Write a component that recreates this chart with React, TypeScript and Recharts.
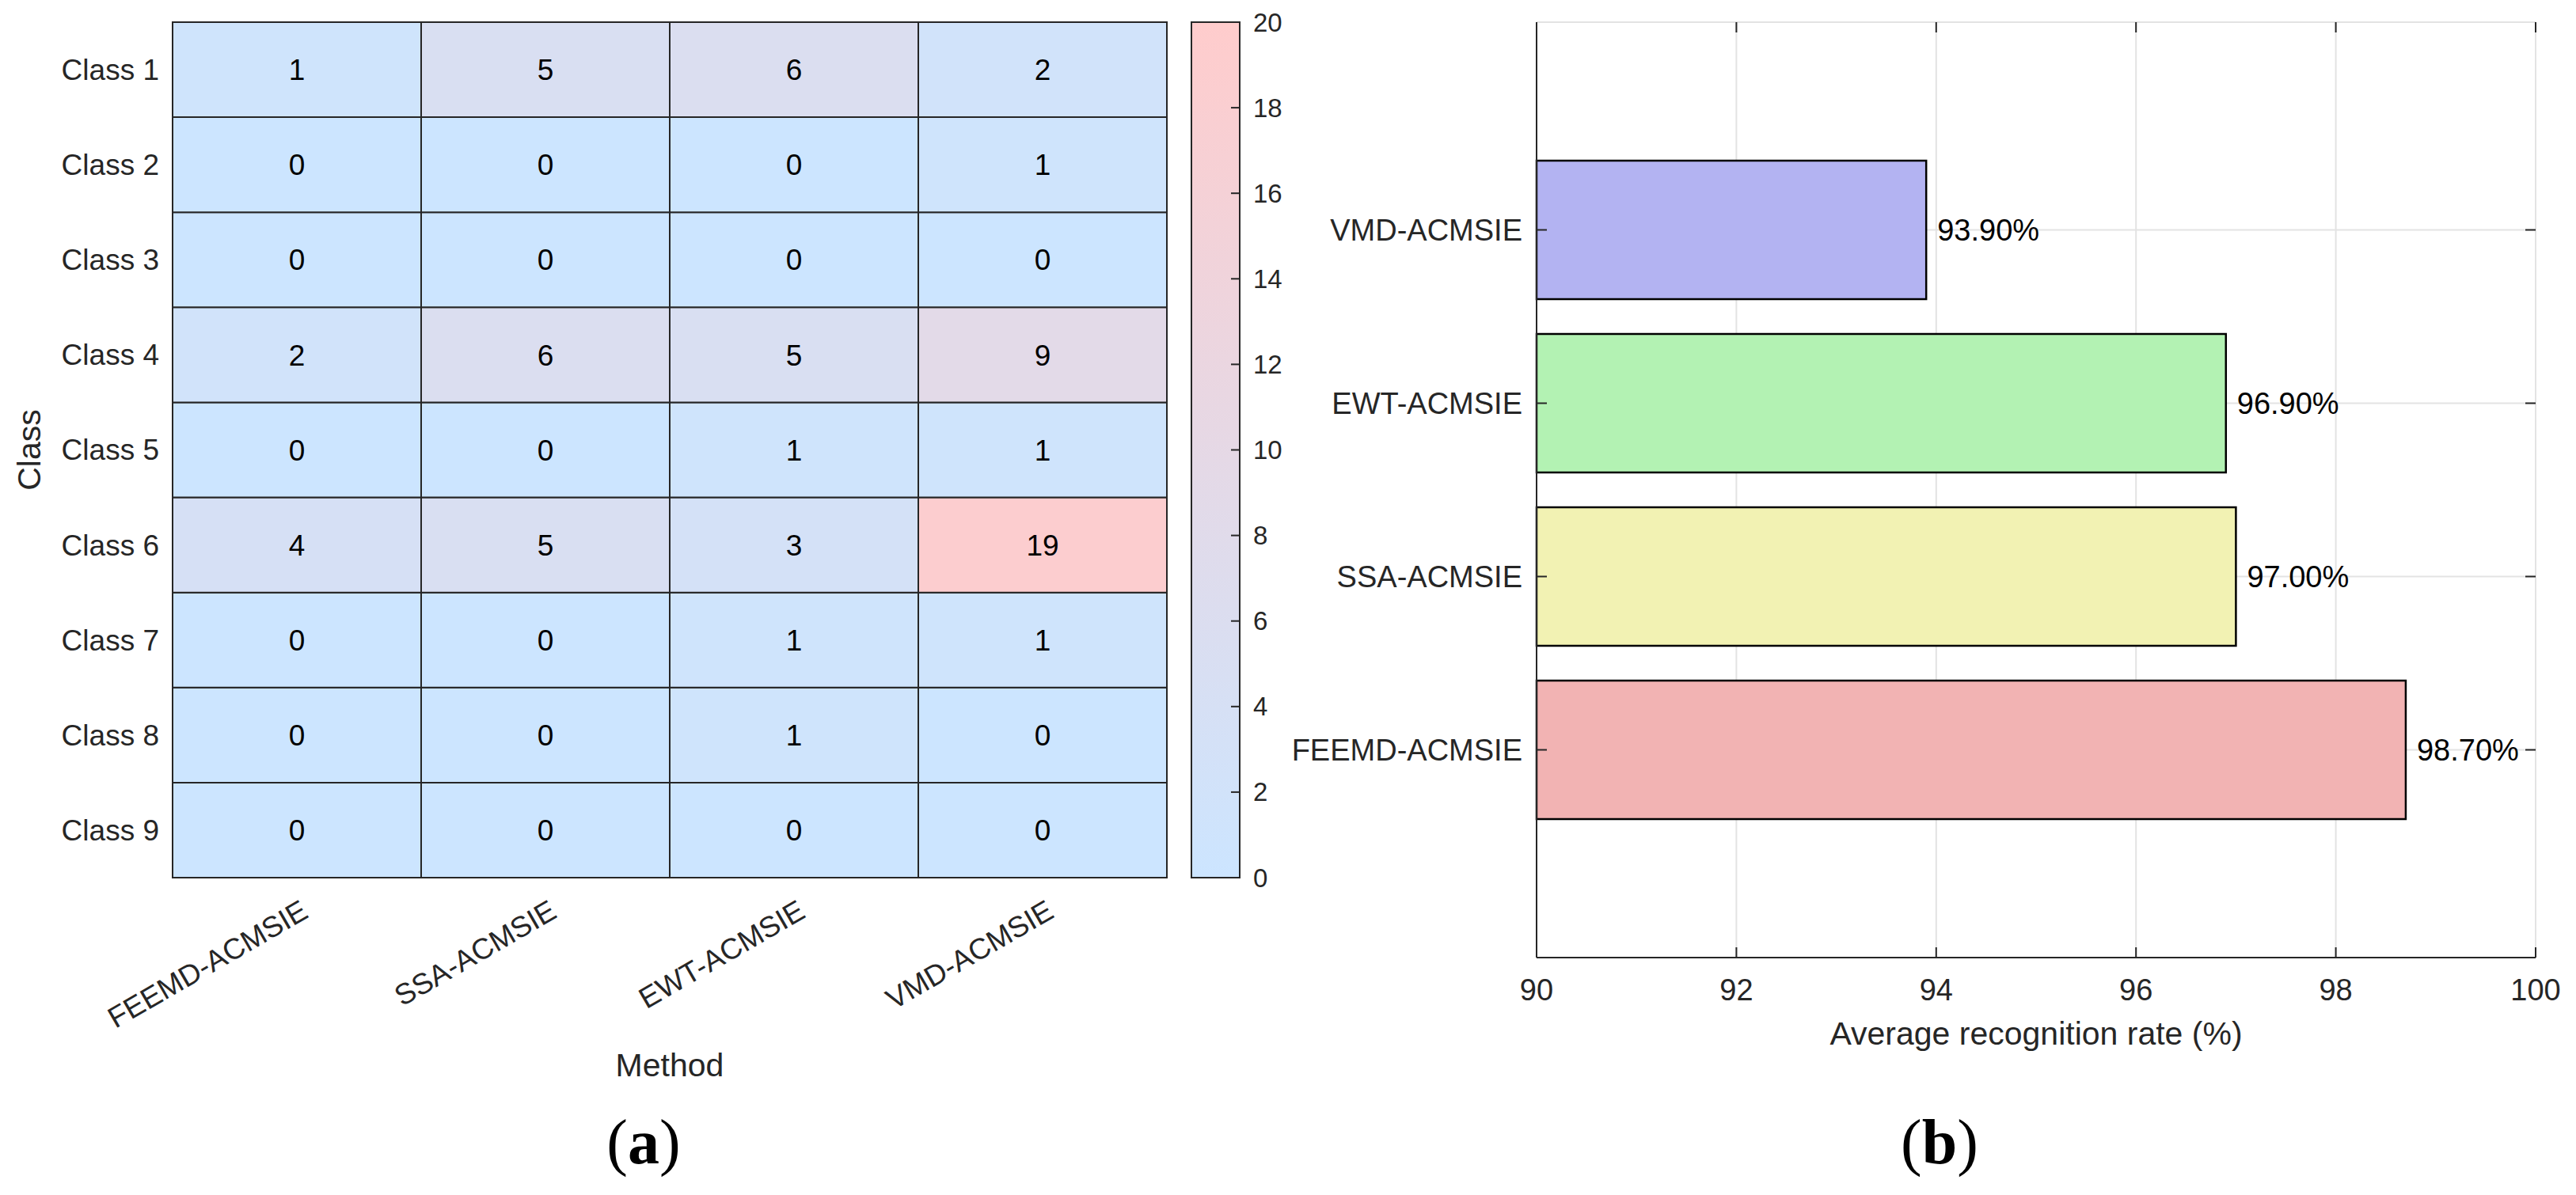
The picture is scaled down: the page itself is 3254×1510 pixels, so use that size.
import React from 'react';
import { BarChart, Bar, XAxis, YAxis, Cell, LabelList, CartesianGrid } from 'recharts';

// ---- (a) misclassified samples per class and method ----
const methods = ['FEEMD-ACMSIE', 'SSA-ACMSIE', 'EWT-ACMSIE', 'VMD-ACMSIE'];
const classNames = ['Class 1', 'Class 2', 'Class 3', 'Class 4', 'Class 5', 'Class 6', 'Class 7', 'Class 8', 'Class 9'];
const class1 = [1, 5, 6, 2];
const class2 = [0, 0, 0, 1];
const class3 = [0, 0, 0, 0];
const class4 = [2, 6, 5, 9];
const class5 = [0, 0, 1, 1];
const class6 = [4, 5, 3, 19];
const class7 = [0, 0, 1, 1];
const class8 = [0, 0, 1, 0];
const class9 = [0, 0, 0, 0];
const errorCounts = [class1, class2, class3, class4, class5, class6, class7, class8, class9];

const colorMax = 20;
const colorTicks = [0, 2, 4, 6, 8, 10, 12, 14, 16, 18, 20];

// ---- (b) average recognition rate, listed top to bottom ----
const rateMethods = ['VMD-ACMSIE', 'EWT-ACMSIE', 'SSA-ACMSIE', 'FEEMD-ACMSIE'];
const rates = [93.9, 96.9, 97.0, 98.7];
const rateColors = ['#b3b3f2', '#b3f2b3', '#f2f2b3', '#f2b3b3'];
const rateTicks = [90, 92, 94, 96, 98, 100];

const FONT = '"Liberation Sans", Arial, Helvetica, sans-serif';
const SERIF = '"Liberation Serif", "Times New Roman", serif';
const INK = '#262626';

const LOW = [204, 229, 255];
const HIGH = [255, 204, 204];
const cellColor = (v: number) => {
  const t = Math.max(0, Math.min(1, v / colorMax));
  const c = LOW.map((l, k) => Math.round(l + (HIGH[k] - l) * t));
  return `rgb(${c.join(',')})`;
};

const heatData = methods.map((m, j) => {
  const row: Record<string, any> = { method: m };
  classNames.forEach((c, i) => {
    row[c] = errorCounts[i][j];
  });
  return row;
});
const rowTicks = classNames.map((_, i) => classNames.length - i - 0.5);

const rateData = rateMethods.map((m, i) => ({ method: m, rate: rates[i] }));

// layout of panel (b)
const B_LEFT = 1560;
const B_W = 3254 - B_LEFT;
const B_H = 1510;
const B_TOP = 28;
const B_RIGHT = 51;
const B_YAXIS = 1941 - B_LEFT;
const B_XAXIS = 300;
const B_PLOT_W = B_W - B_YAXIS - B_RIGHT;
const B_PLOT_H = B_H - B_TOP - B_XAXIS;

const HeatMap = () => (
  <BarChart
    width={1500}
    height={1510}
    data={heatData}
    margin={{ top: 28, right: 26, left: 0, bottom: 0 }}
    barCategoryGap={0}
    barGap={0}
  >
    <XAxis
      dataKey="method"
      type="category"
      height={401}
      axisLine={false}
      tickLine={false}
      tickSize={0}
      tickMargin={0}
      interval={0}
      tick={(p: any) => (
        <g transform={`translate(${p.x + 10},${p.y + 38}) rotate(-30)`}>
          <text x={0} y={0} dy="0.35em" textAnchor="end" fontSize={37} fontFamily={FONT} fill={INK}>
            {p.payload.value}
          </text>
        </g>
      )}
      label={{
        content: (p: any) => {
          const vb = p.viewBox;
          return (
            <text x={vb.x + vb.width / 2} y={vb.y + 251} textAnchor="middle" fontSize={41} fontFamily={FONT} fill={INK}>
              Method
            </text>
          );
        },
      }}
    />
    <YAxis
      type="number"
      domain={[0, classNames.length]}
      ticks={rowTicks}
      width={218}
      axisLine={false}
      tickLine={false}
      tickSize={0}
      tickMargin={0}
      interval={0}
      tick={(p: any) => (
        <text x={p.x - 17} y={p.y} dy="0.35em" textAnchor="end" fontSize={37} fontFamily={FONT} fill={INK}>
          {classNames[Math.round(classNames.length - 0.5 - p.payload.value)]}
        </text>
      )}
      label={{
        content: (p: any) => {
          const vb = p.viewBox;
          const cx = vb.x + 37;
          const cy = vb.y + vb.height / 2;
          return (
            <text
              x={cx}
              y={cy}
              dy="0.35em"
              textAnchor="middle"
              transform={`rotate(-90,${cx},${cy})`}
              fontSize={41}
              fontFamily={FONT}
              fill={INK}
            >
              Class
            </text>
          );
        },
      }}
    />
    {[...classNames].reverse().map((c) => (
      <Bar key={c} dataKey={() => 1} stackId="cells" stroke={INK} strokeWidth={2} isAnimationActive={false}>
        {heatData.map((row, j) => (
          <Cell key={j} fill={cellColor(row[c])} />
        ))}
        <LabelList dataKey={c} position="center" fill="#000" fontSize={37} fontFamily={FONT} />
      </Bar>
    ))}
  </BarChart>
);

const ColorBar = () => (
  <BarChart
    width={160}
    height={1510}
    data={[{ level: colorMax }]}
    margin={{ top: 28, right: 0, left: 25, bottom: 401 }}
    barCategoryGap={0}
    barGap={0}
  >
    <defs>
      <linearGradient id="cbarGrad" x1="0" y1="1" x2="0" y2="0">
        <stop offset="0%" stopColor={cellColor(0)} />
        <stop offset="100%" stopColor={cellColor(colorMax)} />
      </linearGradient>
    </defs>
    <XAxis type="category" hide />
    <YAxis
      orientation="right"
      type="number"
      domain={[0, colorMax]}
      ticks={colorTicks}
      width={74}
      axisLine={false}
      tickLine={false}
      tickSize={0}
      tickMargin={0}
      interval={0}
      tick={(p: any) => (
        <g>
          <line x1={p.x - 11} x2={p.x} y1={p.y} y2={p.y} stroke={INK} strokeWidth={2} />
          <text x={p.x + 17} y={p.y} dy="0.35em" textAnchor="start" fontSize={33} fontFamily={FONT} fill={INK}>
            {p.payload.value}
          </text>
        </g>
      )}
    />
    <Bar dataKey="level" fill="url(#cbarGrad)" stroke={INK} strokeWidth={2} isAnimationActive={false} />
  </BarChart>
);

const RateChart = () => (
  <BarChart
    layout="vertical"
    width={B_W}
    height={B_H}
    data={rateData}
    margin={{ top: B_TOP, right: B_RIGHT, left: 0, bottom: 0 }}
  >
    <CartesianGrid stroke="#e3e3e3" strokeWidth={2} />
    <XAxis
      type="number"
      domain={[90, 100]}
      ticks={rateTicks}
      height={B_XAXIS}
      axisLine={{ stroke: INK, strokeWidth: 2 }}
      tickLine={false}
      tickSize={0}
      tickMargin={0}
      interval={0}
      tick={(p: any) => (
        <g>
          <line x1={p.x} x2={p.x} y1={p.y} y2={p.y - 13} stroke={INK} strokeWidth={2} />
          <line x1={p.x} x2={p.x} y1={p.y - B_PLOT_H} y2={p.y - B_PLOT_H + 13} stroke={INK} strokeWidth={2} />
          <text x={p.x} y={p.y + 41} dy="0.35em" textAnchor="middle" fontSize={38} fontFamily={FONT} fill={INK}>
            {p.payload.value}
          </text>
        </g>
      )}
      label={{
        content: (p: any) => {
          const vb = p.viewBox;
          return (
            <text x={vb.x + vb.width / 2} y={vb.y + 110} textAnchor="middle" fontSize={41} fontFamily={FONT} fill={INK}>
              Average recognition rate (%)
            </text>
          );
        },
      }}
    />
    <XAxis
      xAxisId="top"
      orientation="top"
      type="number"
      domain={[90, 100]}
      height={0}
      tick={false}
      tickLine={false}
      axisLine={{ stroke: INK, strokeWidth: 2 }}
    />
    <YAxis
      type="category"
      dataKey="method"
      width={B_YAXIS}
      padding={{ top: 153, bottom: 153 }}
      axisLine={{ stroke: INK, strokeWidth: 2 }}
      tickLine={false}
      tickSize={0}
      tickMargin={0}
      interval={0}
      tick={(p: any) => (
        <g>
          <line x1={p.x} x2={p.x + 13} y1={p.y} y2={p.y} stroke={INK} strokeWidth={2} />
          <line x1={p.x + B_PLOT_W - 13} x2={p.x + B_PLOT_W} y1={p.y} y2={p.y} stroke={INK} strokeWidth={2} />
          <text x={p.x - 18} y={p.y} dy="0.35em" textAnchor="end" fontSize={38} fontFamily={FONT} fill={INK}>
            {p.payload.value}
          </text>
        </g>
      )}
    />
    <YAxis
      yAxisId="right"
      orientation="right"
      type="number"
      domain={[0, 1]}
      width={0}
      tick={false}
      tickLine={false}
      axisLine={{ stroke: INK, strokeWidth: 2 }}
    />
    <Bar dataKey="rate" barSize={175} stroke="#000" strokeWidth={2.5} isAnimationActive={false}>
      {rateData.map((_, i) => (
        <Cell key={i} fill={rateColors[i]} />
      ))}
      <LabelList
        dataKey="rate"
        position="right"
        offset={14}
        formatter={(v: any) => `${Number(v).toFixed(2)}%`}
        fill="#000"
        fontSize={38}
        fontFamily={FONT}
      />
    </Bar>
  </BarChart>
);

export default function App() {
  return (
    <div style={{ position: 'absolute', left: 0, top: 0, width: 3254, height: 1510, background: '#fff', overflow: 'hidden' }}>
      <div style={{ position: 'absolute', left: 0, top: 0 }}>
        <HeatMap />
      </div>
      <div style={{ position: 'absolute', left: 1480, top: 0 }}>
        <ColorBar />
      </div>
      <div style={{ position: 'absolute', left: B_LEFT, top: 0 }}>
        <RateChart />
      </div>
      <svg width={3254} height={1510} style={{ position: 'absolute', left: 0, top: 0, pointerEvents: 'none' }}>
        <text x={813} y={1470} textAnchor="middle" fontSize={80} fontFamily={SERIF} fill="#000">
          (<tspan fontWeight="bold">a</tspan>)
        </text>
        <text x={2450} y={1470} textAnchor="middle" fontSize={80} fontFamily={SERIF} fill="#000">
          (<tspan fontWeight="bold">b</tspan>)
        </text>
      </svg>
    </div>
  );
}
